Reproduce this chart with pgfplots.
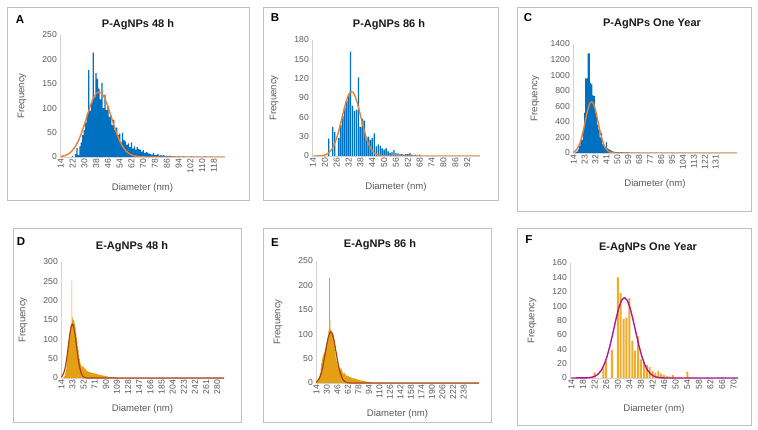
\documentclass[border=0pt]{standalone}
\usepackage{fontspec}
\setmainfont{Liberation Sans}
\usepackage{pgfplots}
\pgfplotsset{compat=1.18}
\definecolor{barblue}{RGB}{0,112,192}
\definecolor{curveorange}{RGB}{237,125,49}
\definecolor{bargold}{RGB}{228,160,20}
\definecolor{curvered}{RGB}{170,65,20}
\definecolor{barorange}{RGB}{240,172,40}
\definecolor{curvemag}{RGB}{170,25,150}
\definecolor{boxgray}{RGB}{191,191,191}
\definecolor{axgray}{RGB}{210,210,210}
\definecolor{txtgray}{RGB}{89,89,89}
\definecolor{titleblack}{RGB}{25,25,25}
\pgfplotsset{
  panel/.style={
    scale only axis,
    anchor=south west,
    axis lines*=left,
    axis line style={draw=axgray, line width=0.8pt},
    enlargelimits=false,
    ymin=0,
    major tick length=0pt,
    tick style={draw=none},
    ticklabel style={font=\fontsize{8.6}{9}\selectfont, text=txtgray},
    xticklabel style={rotate=90, anchor=east, inner sep=1.5pt},
    yticklabel style={anchor=east, inner sep=3pt},
    /pgf/number format/assume math mode=true,
    /pgf/number format/1000 sep={},
    every axis x label/.style={at={(axis description cs:0.5,0)}, yshift=-31pt, anchor=center, font=\fontsize{9.6}{10}\selectfont, text=txtgray},
    every axis y label/.style={at={(axis description cs:0,0.5)}, xshift=-38pt, rotate=90, anchor=center, font=\fontsize{9.6}{10}\selectfont, text=txtgray},
    xlabel={Diameter (nm)},
    ylabel={Frequency},
  },
}
\tikzset{
  lettr/.style={font=\bfseries\fontsize{11.5}{12}\selectfont, text=black},
  ttl/.style={font=\bfseries\fontsize{11}{12}\selectfont, text=titleblack},
}
\begin{document}
\begin{tikzpicture}[x=1pt,y=1pt]
\useasboundingbox (0,0) rectangle (758,429);
\draw[boxgray, line width=0.8pt] (7,229) rectangle (249,422);
\draw[boxgray, line width=0.8pt] (263,229) rectangle (498,422);
\draw[boxgray, line width=0.8pt] (517,218) rectangle (751,422);
\draw[boxgray, line width=0.8pt] (13,7) rectangle (241,201);
\draw[boxgray, line width=0.8pt] (263,7) rectangle (491,201);
\draw[boxgray, line width=0.8pt] (517,4) rectangle (751,201);

% ---------------- A
\begin{axis}[panel, at={(60pt,272pt)}, width=165pt, height=122pt,
  xmin=13.5, xmax=125.5, ymax=250, xtick={14,22,...,118}, ytick={0,50,...,250}]
\addplot[ybar, bar width=0.85, fill=barblue, draw=none] table[row sep=\\] {
x y\\22 2\\24 6\\25 18\\26 4\\27 22\\28 30\\29 45\\30 55\\31 70\\32 88\\33 178\\34 95\\35 112\\36 214\\37 122\\38 172\\39 160\\40 140\\41 118\\42 152\\43 100\\44 128\\45 96\\46 105\\47 82\\48 86\\49 66\\50 76\\51 55\\52 60\\53 45\\54 48\\55 30\\56 50\\57 35\\58 32\\59 25\\60 28\\61 20\\62 30\\63 17\\64 22\\65 15\\66 20\\67 16\\68 15\\69 11\\70 14\\71 8\\72 10\\73 9\\74 7\\75 6\\76 5\\77 8\\78 4\\79 4\\80 6\\81 3\\82 4\\83 3\\84 4\\85 2\\86 3\\87 2\\88 3\\89 2\\90 1\\91 2\\92 1\\94 2\\95 1\\97 2\\98 1\\100 1\\103 2\\106 1\\112 2\\116 1\\};
\addplot[curveorange, line width=1.4pt, line join=round] table[row sep=\\] {
x y\\14 1.1\\16 2.3\\18 4.3\\20 7.9\\22 13.5\\24 22\\26 33\\28 48\\30 66\\32 85\\34 104\\36 120\\38 130\\40 134\\42 130\\44 120\\46 104\\48 85\\50 66\\52 48\\54 33\\56 22\\58 13.5\\60 7.9\\62 4.3\\64 2.3\\66 1.1\\68 0.5\\70 0.2\\72 0\\125.5 0\\};
\end{axis}

% ---------------- B
\begin{axis}[panel, at={(312pt,273pt)}, width=168pt, height=116pt,
  xmin=13.5, xmax=98.5, ymax=180, xtick={14,20,...,92}, ytick={0,30,...,180}]
\addplot[ybar, bar width=0.7, fill=barblue, draw=none] table[row sep=\\] {
x y\\22 27\\24 45\\25 37\\27 28\\28 48\\29 62\\30 75\\31 85\\32 95\\33 162\\34 78\\35 70\\36 72\\37 122\\38 45\\39 58\\40 55\\41 28\\42 30\\43 25\\44 28\\45 35\\46 15\\47 18\\48 16\\49 12\\50 10\\51 12\\52 7\\53 5\\54 6\\55 9\\56 5\\57 4\\58 3\\59 3\\60 2\\61 3\\62 3\\63 4\\64 2\\65 1\\66 2\\67 1\\68 2\\};
\addplot[curveorange, line width=1.4pt, line join=round] table[row sep=\\] {
x y\\14 0\\16.5 0.1\\17.5 0.3\\18.5 0.6\\19.5 1.2\\20.5 2.2\\21.5 3.8\\22.5 6.5\\23.5 10.4\\24.5 16\\25.5 23.5\\26.5 33\\27.5 44.3\\28.5 56.8\\29.5 69.6\\30.5 81.6\\31.5 91.3\\32.5 97.8\\33.5 100\\34.5 97.8\\35.5 91.3\\36.5 81.6\\37.5 69.6\\38.5 56.8\\39.5 44.3\\40.5 33\\41.5 23.5\\42.5 16\\43.5 10.4\\44.5 6.5\\45.5 3.8\\46.5 2.2\\47.5 1.2\\48.5 0.6\\49.5 0.3\\50.5 0.1\\52 0\\98.5 0\\};
\end{axis}

% ---------------- C
\begin{axis}[panel, at={(573pt,276pt)}, width=164pt, height=109pt,
  xmin=13.5, xmax=148.5, ymax=1400, xtick={14,23,...,131}, ytick={0,200,...,1400}]
\addplot[ybar, bar width=0.85, fill=barblue, draw=none] table[row sep=\\] {
x y\\15 5\\16 10\\17 20\\18 45\\19 90\\20 170\\21 170\\22 300\\23 520\\24 960\\25 960\\26 1280\\27 1280\\28 900\\29 880\\30 740\\31 730\\32 520\\33 460\\34 360\\35 300\\36 200\\37 260\\38 110\\39 90\\40 70\\41 140\\42 60\\43 50\\44 40\\45 30\\46 22\\47 18\\48 15\\49 12\\50 12\\51 10\\52 10\\53 8\\54 10\\55 8\\56 8\\57 6\\58 10\\59 6\\60 5\\62 6\\64 4\\66 5\\68 4\\71 5\\73 3\\77 5\\82 4\\86 4\\91 3\\95 4\\104 5\\};
\addplot[curveorange, line width=1.4pt, line join=round] table[row sep=\\] {
x y\\14 13\\14.8 20.1\\15.8 32.6\\16.8 50.9\\17.8 76.5\\18.8 111\\19.8 156\\20.8 211\\21.8 276\\22.8 348\\23.8 423\\24.8 497\\25.8 562\\26.8 615\\27.8 648\\28.8 660\\29.8 648\\30.8 615\\31.8 562\\32.8 497\\33.8 423\\34.8 348\\35.8 276\\36.8 211\\37.8 156\\38.8 111\\39.8 76.5\\40.8 50.9\\41.8 32.6\\42.8 20.1\\43.8 12\\44.8 6.9\\45.8 3.5\\47 1\\48 0\\148.5 0\\};
\end{axis}

% ---------------- D
\begin{axis}[panel, at={(61pt,51pt)}, width=163pt, height=116pt,
  xmin=13.5, xmax=291.5, ymax=300, xtick={14,33,...,280}, ytick={0,50,...,300}]
\addplot[ybar, bar width=1.05, fill=bargold, draw=none] table[row sep=\\] {
x y\\18 2\\19 4\\20 6\\21 12\\22 22\\23 35\\24 50\\25 65\\26 80\\27 95\\28 110\\29 120\\30 132\\31 140\\32 252\\33 158\\34 152\\35 150\\36 146\\37 140\\38 130\\39 118\\40 105\\41 95\\42 82\\43 72\\44 60\\45 50\\46 42\\47 36\\48 32\\49 30\\50 30\\51 28\\52 28\\53 26\\54 25\\55 22\\56 22\\57 20\\58 18\\59 17\\60 16\\61 16\\62 15\\63 15\\64 14\\65 14\\66 13\\67 13\\68 13\\69 12\\70 12\\71 12\\72 11\\73 11\\74 10\\75 10\\76 10\\77 9\\78 9\\79 9\\80 8\\81 8\\82 8\\83 7\\84 7\\85 7\\86 6\\87 6\\88 6\\89 5\\90 5\\91 4\\92 4\\93 4\\94 3\\95 3\\96 3\\97 3\\98 2\\99 2\\100 2\\101 2\\102 2\\103 2\\104 1\\105 1\\106 1\\107 1\\108 1\\109 1\\110 1\\};
\addplot[curvered, line width=1.2pt, line join=round] table[row sep=\\] {
x y\\14 2.8\\15 4.2\\17 8.8\\19 16.8\\21 29.5\\23 47.5\\25 70\\27 94.9\\29 118\\31 134\\33 140\\35 134\\37 118\\39 94.9\\41 70\\43 47.5\\45 29.5\\47 16.8\\49 8.8\\51 4.2\\53 1.85\\55 0.75\\57 0.28\\59 0\\291.5 0\\};
\end{axis}

% ---------------- E
\begin{axis}[panel, at={(316pt,46pt)}, width=163pt, height=122pt,
  xmin=13.5, xmax=261.5, ymax=250, xtick={14,30,...,238}, ytick={0,50,...,250}]
\addplot[ybar, bar width=1.05, fill=bargold, draw=none] table[row sep=\\] {
x y\\14 2\\15 4\\16 5\\17 7\\18 10\\19 14\\20 20\\21 30\\22 40\\23 50\\24 55\\25 58\\26 62\\27 66\\28 72\\29 78\\30 84\\31 90\\32 96\\33 108\\34 216\\35 130\\36 110\\37 106\\38 104\\39 102\\40 98\\41 90\\42 76\\43 62\\44 52\\45 45\\46 40\\47 36\\48 32\\49 30\\50 30\\51 28\\52 30\\53 26\\54 22\\55 20\\56 18\\57 20\\58 16\\59 18\\60 14\\61 15\\62 13\\63 14\\64 12\\65 12\\66 11\\67 12\\68 10\\69 10\\70 11\\71 9\\72 9\\73 10\\74 8\\75 8\\76 9\\77 7\\78 7\\79 6\\80 7\\81 5\\82 5\\83 6\\84 4\\85 5\\86 4\\87 4\\88 3\\89 4\\90 3\\91 3\\92 2\\93 3\\94 2\\95 2\\96 2\\98 1\\100 2\\102 1\\105 1\\108 2\\110 1\\115 1\\120 1\\125 1\\};
\addplot[curvered, line width=1.2pt, line join=round] table[row sep=\\] {
x y\\14 2.4\\16 4.6\\18 8.4\\20 14.2\\22 22.7\\24 34.1\\26 48.1\\28 63.7\\30 79.3\\32 92.7\\34 101.8\\36 105\\38 101.8\\40 92.7\\42 79.3\\44 63.7\\46 48.1\\48 34.1\\50 22.7\\52 14.2\\54 8.4\\56 4.6\\58 2.4\\60 1.2\\62 0.5\\64 0.2\\66 0\\261.5 0\\};
\end{axis}

% ---------------- F
\begin{axis}[panel, at={(570pt,51pt)}, width=168pt, height=115pt,
  xmin=13.5, xmax=71.5, ymax=160, xtick={14,18,...,70}, ytick={0,20,...,160}]
\addplot[ybar, bar width=0.7, fill=barorange, draw=none] table[row sep=\\] {
x y\\22 8\\25 16\\26 24\\28 39\\30 140\\31 118\\32 82\\33 84\\34 111\\35 52\\36 38\\37 58\\38 26\\39 22\\40 18\\41 15\\42 10\\43 7\\44 10\\45 6\\46 4\\47 3\\48 2\\49 4\\50 1\\51 2\\52 1\\54 9\\55 1\\56 1\\57 1\\61 1\\65 1\\66 1\\};
\addplot[curvemag, line width=1.4pt, line join=round] table[row sep=\\] {
x y\\14 0\\19.3 0.23\\20.3 0.58\\21.3 1.35\\22.3 2.9\\23.3 5.8\\24.3 10.8\\25.3 18.7\\26.3 30.1\\27.3 44.9\\28.3 62.4\\29.3 80.6\\30.3 96.8\\31.3 108\\32.3 112\\33.3 108\\34.3 96.8\\35.3 80.6\\36.3 62.4\\37.3 44.9\\38.3 30.1\\39.3 18.7\\40.3 10.8\\41.3 5.8\\42.3 2.9\\43.3 1.35\\44.3 0.58\\45.3 0.23\\46.3 0\\71.5 0\\};
\end{axis}

\node[lettr] at (20,409) {A};
\node[lettr] at (275,411) {B};
\node[lettr] at (528,411) {C};
\node[lettr] at (21,187) {D};
\node[lettr] at (275,186) {E};
\node[lettr] at (529,189) {F};
\node[ttl] at (138,404) {P-AgNPs 48 h};
\node[ttl] at (389,404) {P-AgNPs 86 h};
\node[ttl] at (652,405) {P-AgNPs One Year};
\node[ttl] at (132,182) {E-AgNPs 48 h};
\node[ttl] at (380,184) {E-AgNPs 86 h};
\node[ttl] at (648,181) {E-AgNPs One Year};
\end{tikzpicture}
\end{document}
